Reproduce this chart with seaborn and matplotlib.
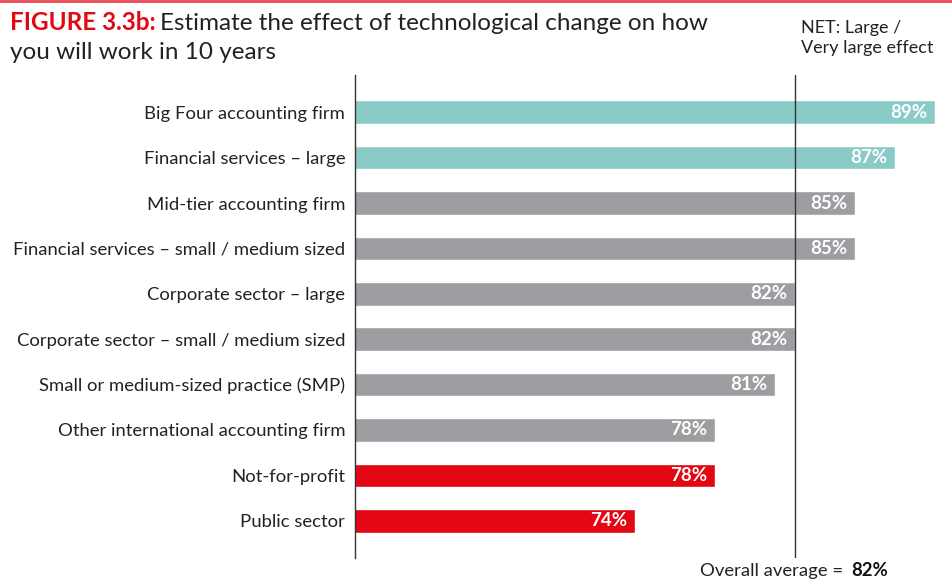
import matplotlib
matplotlib.use("Agg")
import matplotlib.pyplot as plt
import seaborn as sns
import pandas as pd

# Data
categories = [
    "Big Four accounting firm",
    "Financial services \u2013 large",
    "Mid-tier accounting firm",
    "Financial services \u2013 small / medium sized",
    "Corporate sector \u2013 large",
    "Corporate sector \u2013 small / medium sized",
    "Small or medium-sized practice (SMP)",
    "Other international accounting firm",
    "Not-for-profit",
    "Public sector",
]
values = [89, 87, 85, 85, 82, 82, 81, 78, 78, 74]
groups = ["teal", "teal", "gray", "gray", "gray", "gray", "gray", "gray", "red", "red"]
overall_average = 82

palette = {"teal": "#8acbc8", "gray": "#9c9ea1", "red": "#e30613"}

df = pd.DataFrame({"category": categories, "value": values, "group": groups})

sns.set_style("white")
plt.rcParams["font.family"] = ["Lato", "DejaVu Sans"]

fig = plt.figure(figsize=(9.53, 5.8), dpi=100)
ax = fig.add_axes([355 / 953, 22 / 580, (935 - 355) / 953, (505 - 22) / 580])

sns.barplot(data=df, x="value", y="category", hue="group", palette=palette,
            dodge=False, legend=False, width=0.52, ax=ax, saturation=1)

ax.set_xlim(60, 89)
ax.set_ylim(9.82, -0.82)

# value labels inside bar ends
for i, v in enumerate(values):
    ax.text(v - 0.4, i, f"{v}%", ha="right", va="center", color="white",
            fontsize=13.5, fontweight="bold")

# overall average line
ax.axvline(overall_average, color="#333333", lw=1)

for s in ["top", "right", "bottom"]:
    ax.spines[s].set_visible(False)
ax.spines["left"].set_color("#333333")
ax.spines["left"].set_linewidth(1)
ax.set_xticks([])
ax.set_xlabel("")
ax.set_ylabel("")
ax.tick_params(axis="y", length=0, pad=7, labelsize=13.3, labelcolor="#222222")

# titles and notes
fig.add_artist(plt.Line2D([0, 1], [0.998, 0.998], color="#e8474f", lw=2,
                          transform=fig.transFigure))
t1 = fig.text(10 / 953, 1 - 30 / 580, "FIGURE 3.3b:", color="#e30613",
              fontsize=17.5, fontweight="bold", va="baseline")
fig.canvas.draw()
bb = t1.get_window_extent()
fig.text(bb.x1 / 953 + 0.005, 1 - 30 / 580,
         "Estimate the effect of technological change on how",
         color="#222222", fontsize=17.5, va="baseline")
fig.text(10 / 953, 1 - 59 / 580, "you will work in 10 years", color="#222222",
         fontsize=17.5, va="baseline")
fig.text(801 / 953, 1 - 33 / 580, "NET: Large /", color="#222222",
         fontsize=13, va="baseline")
fig.text(801 / 953, 1 - 53 / 580, "Very large effect", color="#222222",
         fontsize=13, va="baseline")

fig.text(848 / 953, 1 - 576 / 580, "Overall average = ", color="#222222",
         fontsize=13.3, ha="right", va="baseline")
fig.text(851 / 953, 1 - 576 / 580, "82%", color="#111111",
         fontsize=13.3, fontweight="bold", ha="left", va="baseline")

fig.savefig("out.png", dpi=100)
